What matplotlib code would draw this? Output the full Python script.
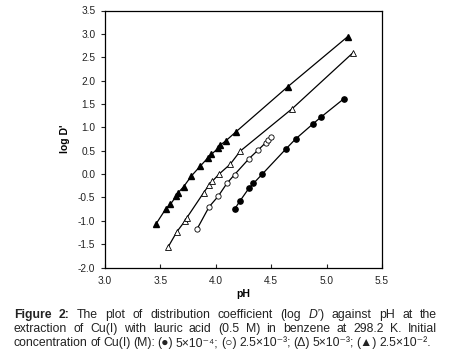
import matplotlib
matplotlib.use("Agg")
import matplotlib.pyplot as plt

plt.rcParams['font.family'] = ['Liberation Sans', 'DejaVu Sans']

# (filled triangle) 2.5e-2 M
ph_tri_full = [3.46, 3.55, 3.59, 3.64, 3.66, 3.71, 3.78, 3.86, 3.93, 3.96, 4.02, 4.04, 4.09, 4.18, 4.65, 5.19]
logd_tri_full = [-1.07, -0.74, -0.65, -0.48, -0.40, -0.27, -0.04, 0.17, 0.35, 0.42, 0.55, 0.62, 0.71, 0.90, 1.87, 2.94]

# (open triangle) 5e-3 M
ph_tri_open = [3.57, 3.65, 3.72, 3.74, 3.89, 3.94, 3.97, 4.03, 4.13, 4.22, 4.69, 5.24]
logd_tri_open = [-1.56, -1.23, -1.01, -0.93, -0.40, -0.23, -0.15, 0.00, 0.21, 0.49, 1.40, 2.60]

# (open circle) 2.5e-3 M
ph_circ_open = [3.83, 3.94, 4.02, 4.10, 4.17, 4.30, 4.38, 4.45, 4.47, 4.50]
logd_circ_open = [-1.18, -0.70, -0.48, -0.20, -0.01, 0.33, 0.51, 0.67, 0.72, 0.79]

# (filled circle) 5e-4 M
ph_circ_full = [4.17, 4.22, 4.30, 4.34, 4.42, 4.63, 4.72, 4.88, 4.95, 5.155]
logd_circ_full = [-0.75, -0.57, -0.30, -0.20, 0.00, 0.53, 0.75, 1.08, 1.22, 1.61]

# caption: each word is a string or a list of (text, weight, style) pieces
caption_lines = [
    [[("Figure", 'bold', 'normal')], [("2:", 'bold', 'normal')], "The", "plot", "of", "distribution",
     "coefficient", "(log", [("D\u2019", 'normal', 'italic'), (")", 'normal', 'normal')],
     "against", "pH", "at", "the"],
    ["extraction", "of", "Cu(I)", "with", "lauric", "acid", "(0.5", "M)", "in", "benzene",
     "at", "298.2", "K.", "Initial"],
    ["concentration", "of", "Cu(I)", "(M):", "(\u25cf)", "5\u00d710\u207b\u2074;", "(\u25cb)",
     "2.5\u00d710\u207b\u00b3;", "(\u0394)", "5\u00d710\u207b\u00b3;", "(\u25b2)", "2.5\u00d710\u207b\u00b2."],
]

W, H = 449, 358
fig = plt.figure(figsize=(W / 100, H / 100), dpi=100)
ax = fig.add_axes([105 / W, 1 - 267.5 / H, 277 / W, 257 / H])

ax.plot(ph_tri_full, logd_tri_full, '-^', color='black', mfc='black', ms=4.2, lw=0.9)
ax.plot(ph_tri_open, logd_tri_open, '-^', color='black', mfc='white', ms=4.2, lw=0.9, mew=0.6)
ax.plot(ph_circ_open, logd_circ_open, '-o', color='black', mfc='white', ms=3.8, lw=0.9, mew=0.6)
ax.plot(ph_circ_full, logd_circ_full, '-o', color='black', mfc='black', ms=3.8, lw=0.9)

ax.set_xlim(3.0, 5.5)
ax.set_ylim(-2.0, 3.5)
ax.set_xticks([3.0, 3.5, 4.0, 4.5, 5.0, 5.5])
ax.set_yticks([-2.0, -1.5, -1.0, -0.5, 0.0, 0.5, 1.0, 1.5, 2.0, 2.5, 3.0, 3.5])
ax.set_xticklabels(['%.1f' % v for v in ax.get_xticks()])
ax.set_yticklabels(['%.1f' % v for v in ax.get_yticks()])
ax.tick_params(axis='x', direction='in', length=3, width=0.8, labelsize=7.3, pad=6, colors='#222222')
ax.tick_params(axis='y', direction='out', length=3, width=0.8, labelsize=7.3, pad=4, colors='#222222')
for s in ax.spines.values():
    s.set_linewidth(0.9)

ax.set_xlabel('pH', fontsize=7.5, fontweight='bold', labelpad=2)
ax.set_ylabel("log D'", fontsize=7.5, fontweight='bold', labelpad=6)

# justified caption, word by word
fig.canvas.draw()
renderer = fig.canvas.get_renderer()
x_left, x_right = 14, 437
line_y = [318, 332, 346]
fs = 8.8
for i, words in enumerate(caption_lines):
    word_arts = []
    word_widths = []
    for w in words:
        if isinstance(w, str):
            w = [(w, 'normal', 'normal')]
        pieces = []
        wsum = 0
        for txt, wt, st in w:
            t = fig.text(0, 0, txt, fontsize=fs, fontweight=wt, fontstyle=st, color='#222222',
                         va='baseline', ha='left', transform=None)
            pw = t.get_window_extent(renderer).width
            pieces.append((t, pw))
            wsum += pw
        word_arts.append(pieces)
        word_widths.append(wsum)
    total = sum(word_widths)
    if i < len(caption_lines) - 1:
        gap = (x_right - x_left - total) / (len(words) - 1)
    else:
        gap = 2.6
    x = x_left
    for pieces in word_arts:
        for t, pw in pieces:
            t.set_position((x, H - line_y[i]))
            x += pw
        x += gap

fig.savefig('out.png', dpi=100)
